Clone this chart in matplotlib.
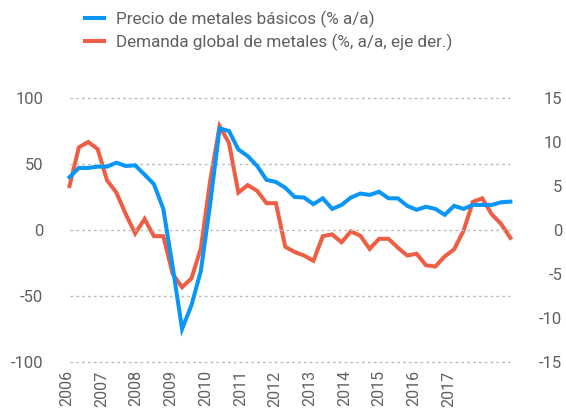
import matplotlib
matplotlib.use("Agg")
import matplotlib.pyplot as plt
from matplotlib.lines import Line2D
import numpy as np

# Quarterly data, 2006Q1 .. 2017Q4
precio = [40, 47, 47, 48, 48, 51, 48.5, 49, 42, 34.7, 16, -28,
          -75, -57, -31, 20, 77, 75, 61, 56, 48.5, 38, 36.4, 32,
          25, 24.6, 19.6, 24, 16, 19, 24.6, 27.6, 26.6, 29, 24, 24,
          18.3, 15.3, 17.6, 16, 11.5, 18.3, 16, 19, 19, 19, 21, 21.5]
demanda = [5.0, 9.4, 10.0, 9.2, 5.65, 4.25, 1.8, -0.4, 1.25, -0.7, -0.7, -5.0,
           -6.5, -5.5, -2.1, 5.6, 11.8, 9.9, 4.25, 5.1, 4.45, 3.05, 3.05, -1.9,
           -2.5, -2.9, -3.5, -0.7, -0.5, -1.4, -0.15, -0.65, -2.15, -1.0, -1.0, -2.0,
           -2.9, -2.7, -4.0, -4.15, -3.0, -2.2, -0.1, 3.2, 3.6, 1.8, 0.7, -0.9]
years = ["2006", "2007", "2008", "2009", "2010", "2011", "2012", "2013",
         "2014", "2015", "2016", "2017"]
left_ticks = [-100, -50, 0, 50, 100]
right_ticks = [-15, -10, -5, 0, 5, 10, 15]
labels = ["Precio de metales básicos (% a/a)",
          "Demanda global de metales (%, a/a, eje der.)"]

BLUE = "#0A96F7"
ORANGE = "#EE5E45"
TXT = "#606060"
GRID = "#bdbdbd"

plt.rcParams['font.family'] = ['Roboto', 'DejaVu Sans']

W, H = 566, 408
fig = plt.figure(figsize=(W / 100, H / 100), dpi=100)
ax_l, ax_r, ax_t, ax_b = 60, 515, 98, 362
ax = fig.add_axes([ax_l / W, 1 - ax_b / H, (ax_r - ax_l) / W, (ax_b - ax_t) / H])
ax2 = ax.twinx()

x = np.arange(len(precio))
px_per = (510.4 - 69.5) / (len(precio) - 1)
ax.set_xlim(-(69.5 - ax_l) / px_per, (len(precio) - 1) + (ax_r - 510.4) / px_per)
ax.set_ylim(-100, 100)
ax2.set_ylim(-15, 15)

# grid
for v in left_ticks:
    ax.hlines(v, 0, len(precio) - 1, colors=GRID, linestyles=(0, (2, 2.2)),
              linewidth=1, clip_on=False, zorder=0)

ax2.plot(x, demanda, color=ORANGE, lw=2.9, solid_joinstyle='miter', zorder=2)
ax.plot(x, precio, color=BLUE, lw=2.9, solid_joinstyle='miter', zorder=3)
ax.set_zorder(ax2.get_zorder() + 1)
ax.patch.set_visible(False)

for a in (ax, ax2):
    for s in a.spines.values():
        s.set_visible(False)

ax.set_yticks(left_ticks)
ax.set_yticklabels([str(v) for v in left_ticks])
ax.tick_params(axis='y', length=0, pad=12, labelsize=12, labelcolor=TXT)
ax2.set_yticks(right_ticks)
ax2.set_yticklabels([str(v) for v in right_ticks])
ax2.tick_params(axis='y', length=0, pad=34, labelsize=12, labelcolor=TXT)
for t in ax2.get_yticklabels():
    t.set_horizontalalignment('right')

year_pos = [(66.8 + 34.7 * k - 69.5) / px_per for k in range(len(years))]
ax.set_xticks(year_pos)
ax.set_xticklabels(years, rotation=90)
ax.tick_params(axis='x', length=0, pad=6, labelsize=11.5, labelcolor=TXT)

handles = [Line2D([], [], color=BLUE, lw=2.9), Line2D([], [], color=ORANGE, lw=2.9)]
fig.legend(handles, labels, loc='upper left', bbox_to_anchor=(85 / W, 1 - 11 / H),
           frameon=False, fontsize=12.3, labelcolor=TXT, handlelength=1.1,
           handletextpad=0.7, labelspacing=0.32, borderpad=0, borderaxespad=0)

fig.savefig("out.png", dpi=100)
